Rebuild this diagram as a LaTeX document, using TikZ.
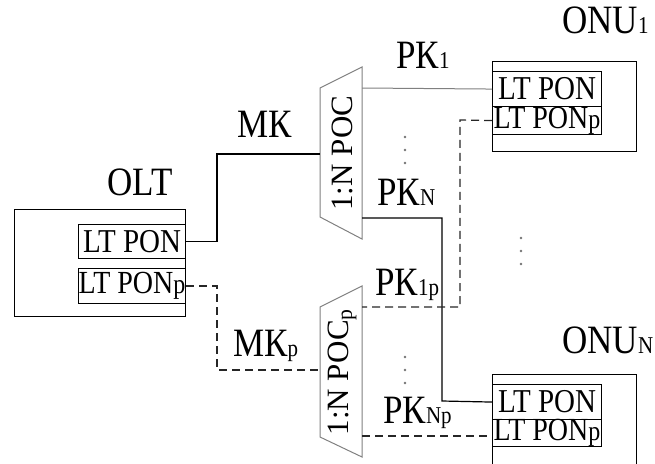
\documentclass[tikz,border=0pt]{standalone}
\usepackage{fontspec}
\setmainfont{Liberation Serif}
\newcommand{\lblfont}{\fontsize{35}{35}\selectfont}
\newcommand{\subfont}{\fontsize{21}{21}\selectfont}
\newcommand{\portfont}{\fontsize{29}{29}\selectfont}
\newcommand{\tall}[1]{\scalebox{1}[1.15]{#1}}
\newcommand{\ponp}{\tall{\fontsize{28}{28}\selectfont LT PON{\fontsize{24}{24}\selectfont p}}}
\begin{document}
\begin{tikzpicture}[x=1pt,y=-1pt,
  box/.style={draw=black, line width=1.2pt, inner sep=0pt, anchor=north west},
  port/.style={draw=black, line width=1.1pt, inner sep=0pt, anchor=north west, font=\portfont, minimum width=107pt},
  lbl/.style={inner sep=0pt, font=\lblfont, anchor=base west},
  fib/.style={line width=1.2pt, draw=black},
  gfib/.style={line width=1pt, draw=black!50},
  pfib/.style={line width=1.2pt, draw=black!85, dash pattern=on 8pt off 5pt},
  split/.style={line width=1pt, draw=black!50},
  dot/.style={fill=black!55, draw=none}
]
\useasboundingbox (0,0) rectangle (655,463);

% OLT
\node[box, minimum width=171pt, minimum height=107pt] (olt) at (14,209) {};
\node[port, minimum height=34pt] (oltpon) at (78,224) {\tall{LT PON}};
\node[port, minimum height=35pt] (oltponp) at (78,268) {\ponp};
\node[lbl, anchor=base] (oltlbl) at (140,195) {\tall{OLT}};

% ONU1
\node[box, minimum width=144pt, minimum height=90pt] (onu1) at (492,61) {};
\node[port, minimum width=109pt, minimum height=35pt] (onu1pon) at (492,71) {\tall{LT PON}};
\node[port, minimum width=109pt, minimum height=28pt] (onu1ponp) at (492,106) {\ponp};
\node[lbl] (onu1lbl) at (562,33) {\tall{ONU{\subfont 1}}};

% ONUN
\node[box, minimum width=144pt, minimum height=110pt] (onuN) at (492,374) {};
\node[port, minimum width=109pt, minimum height=35pt] (onuNpon) at (492,384) {\tall{LT PON}};
\node[port, minimum width=109pt, minimum height=27pt] (onuNponp) at (492,419) {\ponp};
\node[lbl] (onuNlbl) at (562,353) {\tall{ONU{\subfont N}}};

% Splitter 1
\draw[split] (320,88) -- (362,67) -- (362,239) -- (320,217) -- cycle;
\coordinate (s1in) at (320,154);
\coordinate (s1o1) at (362,88);
\coordinate (s1oN) at (362,218);
\node[inner sep=0pt, rotate=90, font=\fontsize{31}{31}\selectfont] (s1txt) at (342,153) {1:N РОС};

% Splitter 2
\draw[split] (320,307) -- (362,286) -- (362,457) -- (320,437) -- cycle;
\coordinate (s2in) at (320,370);
\coordinate (s2o1) at (362,307);
\coordinate (s2oN) at (362,436);
\node[inner sep=0pt, rotate=90, font=\fontsize{31}{31}\selectfont] (s2txt) at (342,372) {1:N РОС$_{\mathrm{p}}$};

% Trunk cables
\draw[fib] (oltpon.east) -| (217,154) -- (s1in);
\draw[pfib] (oltponp.east) -| (217,370) -- (s2in);
\node[lbl] (mk) at (237,137) {\tall{МК}};
\node[lbl] (mkp) at (233,356) {\tall{МК{\subfont p}}};

% Distribution cables
\coordinate (j1) at (460,120);
\draw[gfib] (s1o1) -- (onu1pon.west);
\draw[fib] (s1oN) -| (442,401) -- (onuNpon.west);
\draw[pfib] (onu1ponp.west) -- (j1) |- (s2o1);
\draw[pfib] (s2oN) -- (onuNponp.west |- s2oN);

\node[lbl] (rk1) at (396,68) {\tall{РК{\subfont 1}}};
\node[lbl] (rkN) at (377,205) {\tall{РК{\subfont N}}};
\node[lbl] (rk1p) at (375,295) {\tall{РК{\subfont 1p}}};
\node[lbl] (rkNp) at (383,423) {\tall{РК{\subfont Np}}};

% dots
\foreach \y in {137,150,163} \fill[dot] (405,\y) circle (1.4);
\foreach \y in {357,370,383} \fill[dot] (405,\y) circle (1.4);
\foreach \y in {238,251,264} \fill[dot] (521,\y) circle (1.4);
\end{tikzpicture}
\end{document}
